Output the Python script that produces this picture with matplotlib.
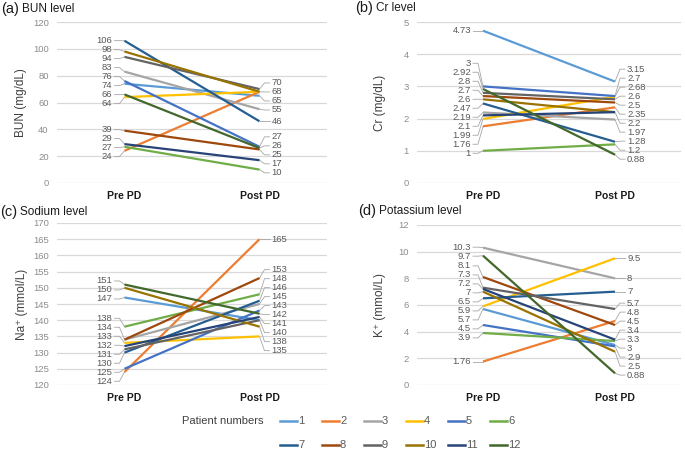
import matplotlib
matplotlib.use("Agg")
import matplotlib.pyplot as plt
from matplotlib.lines import Line2D

plt.rcParams['font.family'] = ['Liberation Sans', 'DejaVu Sans']

# ---------------- data ----------------
patients = [str(i) for i in range(1, 13)]
colors = ['#5B9BD5', '#ED7D31', '#A5A5A5', '#FFC000', '#4472C4', '#70AD47',
          '#255E91', '#9E480E', '#636363', '#997300', '#264478', '#43682B']
categories = ['Pre PD', 'Post PD']

bun_pre = [74, 24, 83, 64, 76, 27, 106, 39, 94, 98, 29, 66]
bun_post = [65, 68, 55, 68, 27, 10, 46, 25, 70, 68, 17, 26]
cr_pre = [4.73, 1.76, 2.19, 1.99, 3, 1, 2.47, 2.7, 2.8, 2.6, 2.1, 2.92]
cr_post = [3.15, 2.35, 1.97, 2.68, 2.7, 1.2, 1.28, 2.5, 2.6, 2.2, 2.2, 0.88]
na_pre = [147, 124, 134, 133, 125, 138, 130, 134, 131, 150, 132, 151]
na_post = [140, 165, 145, 135, 143, 148, 146, 153, 140, 138, 141, 142]
k_pre = [5.7, 1.76, 10.3, 5.9, 4.5, 3.9, 6.5, 8.1, 7.3, 7, 7.2, 9.7]
k_post = [3, 4.8, 8, 9.5, 2.9, 3.3, 7, 4.5, 5.7, 2.5, 3.4, 0.88]

panels = [
    dict(tag='(a)', title='BUN level', ylabel='BUN (mg/dL)', pre=bun_pre, post=bun_post,
         ylim=(0, 120), ticks=list(range(0, 121, 20))),
    dict(tag='(b)', title='Cr level', ylabel='Cr (mg/dL)', pre=cr_pre, post=cr_post,
         ylim=(0, 5), ticks=list(range(0, 6))),
    dict(tag='(c)', title='Sodium level', ylabel='Na\u207a (mmol/L)', pre=na_pre, post=na_post,
         ylim=(120, 170), ticks=list(range(120, 171, 5))),
    dict(tag='(d)', title='Potassium level', ylabel='K\u207a (mmol/L)', pre=k_pre, post=k_post,
         ylim=(0, 12), ticks=list(range(0, 13, 2))),
]

# ---------------- layout (pixels) ----------------
W, H = 685, 449
fig = plt.figure(figsize=(W / 100, H / 100), dpi=100)

# (left, right, top, bottom) in pixels
boxes = [(57, 327, 22, 183), (417, 681, 22, 183), (57, 327, 223, 385), (417, 681, 225, 385)]
title_pos = [(1, 9), (355, 8), (0, 212), (358, 211)]
ylabel_x = [21, 380, 22, 380]

GRID = '#D9D9D9'
TICKC = '#8C8C8C'
LABC = '#595959'
LEADC = '#A6A6A6'


def spread(vals, gap):
    """vals in pixel units (upwards); returns (sorted vals, label positions)."""
    order = sorted(vals)
    groups = [[v] for v in order]
    changed = True
    while changed:
        changed = False
        i = 0
        while i < len(groups) - 1:
            g1, g2 = groups[i], groups[i + 1]
            c1 = sum(g1) / len(g1)
            c2 = sum(g2) / len(g2)
            top1 = c1 + (len(g1) - 1) / 2 * gap
            bot2 = c2 - (len(g2) - 1) / 2 * gap
            if bot2 - top1 < gap:
                groups[i] = g1 + g2
                del groups[i + 1]
                changed = True
            else:
                i += 1
    out = []
    for g in groups:
        c = sum(g) / len(g)
        n = len(g)
        out += [c + (k - (n - 1) / 2) * gap for k in range(n)]
    return order, out


def fmt(v):
    return f"{v:g}"


for p, box, tp, ylx in zip(panels, boxes, title_pos, ylabel_x):
    l, r, t, b = box
    ax = fig.add_axes([l / W, 1 - b / H, (r - l) / W, (b - t) / H])
    y0, y1 = p['ylim']
    ax.set_xlim(-0.5, 1.5)
    ax.set_ylim(y0, y1)
    ax.set_yticks(p['ticks'])
    ax.set_yticklabels([fmt(v) for v in p['ticks']], fontsize=6.8, color=TICKC)
    ax.set_xticks([0, 1])
    ax.set_xticklabels(categories, fontsize=7.5, fontweight='bold', color='#1a1a1a')
    ax.tick_params(axis='both', length=0)
    ax.tick_params(axis='y', pad=6)
    ax.tick_params(axis='x', pad=6)
    for s in ax.spines.values():
        s.set_visible(False)
    ax.grid(axis='y', color=GRID, linewidth=0.9)
    ax.set_axisbelow(True)

    for i in range(12):
        ax.plot([0, 1], [p['pre'][i], p['post'][i]], color=colors[i], lw=1.6,
                solid_capstyle='butt', zorder=3 + i * 0.01)

    # data labels with leader lines
    px_per_y = (b - t) / (y1 - y0)
    px_per_x = (r - l) / 2.0
    gap = 9.0
    for side, vals in ((0, p['pre']), (1, p['post'])):
        uniq = sorted(set(vals))
        pix = [(v - y0) * px_per_y for v in uniq]
        order, pos = spread(pix, gap)
        sgn = -1 if side == 0 else 1
        for v, pp in zip(uniq, pos):
            ly = y0 + pp / px_per_y
            x_diag = side + sgn * 5 / px_per_x
            x_end = side + sgn * 10 / px_per_x
            x_txt = side + sgn * 12 / px_per_x
            ax.plot([side, x_diag, x_end], [v, ly, ly], color=LEADC, lw=0.6,
                    zorder=2, clip_on=False)
            ax.text(x_txt, ly, fmt(v), fontsize=6.8, color=LABC,
                    ha='right' if side == 0 else 'left', va='center', clip_on=False)

    # titles
    tag = fig.text(tp[0] / W, 1 - tp[1] / H, p['tag'], fontsize=10.5, va='center', ha='left',
                   color='#1a1a1a')
    fig.text(0, 0, p['title'], fontsize=8.5, va='center', ha='left', color='#1a1a1a')
    fig.texts[-1].remove()
    fig.add_artist(plt.Annotation(p['title'], xy=(1.0, 0.5), xycoords=tag,
                                  xytext=(2, 0), textcoords='offset points',
                                  fontsize=8.5, va='center', ha='left', color='#1a1a1a'))
    fig.text(ylx / W, 1 - (t + b) / 2 / H, p['ylabel'], fontsize=8.5, rotation=90,
             va='center', ha='center', color='#404040')

# ---------------- legend ----------------
fig.text(182 / W, 1 - 421 / H, 'Patient numbers', fontsize=8, va='center', ha='left',
         color='#404040')
for i, name in enumerate(patients):
    row, col = divmod(i, 6)
    x0 = 280 + 42 * col
    y = 1 - (421 + 24 * row) / H
    fig.add_artist(Line2D([x0 / W, (x0 + 17) / W], [y, y], transform=fig.transFigure,
                          color=colors[i], lw=1.8))
    fig.text((x0 + 18) / W, y, name, fontsize=8, va='center', ha='left', color='#595959')

fig.savefig('out.png', dpi=100)
